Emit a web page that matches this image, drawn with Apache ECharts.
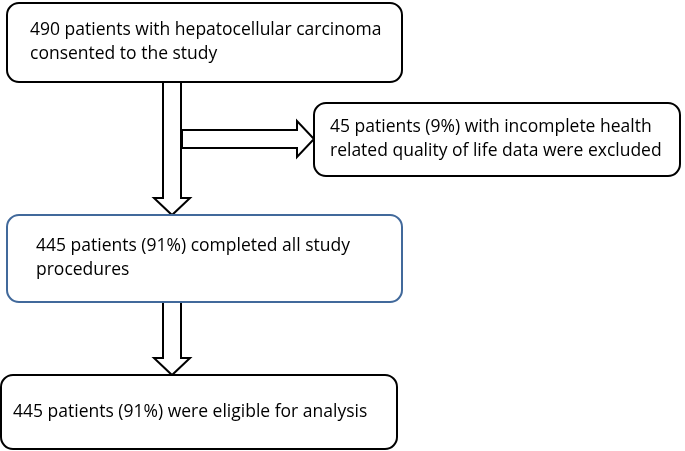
<!DOCTYPE html>
<html>
<head>
<meta charset="utf-8">
<script src="https://cdn.jsdelivr.net/npm/echarts@6/dist/echarts.min.js"></script>
<style>
  html, body { margin: 0; padding: 0; background: #fff; }
  #chart { width: 685px; height: 451px; }
</style>
</head>
<body>
<div id="chart"></div>
<script>
  // flowchart content
  const boxTexts = [
    '490 patients with hepatocellular carcinoma\nconsented to the study',
    '45 patients (9%) with incomplete health\nrelated quality of life data were excluded',
    '445 patients (91%) completed all study\nprocedures',
    '445 patients (91%) were eligible for analysis'
  ];
  const boxColors = ['#000', '#000', '#41699b', '#000'];

  // layout in pixel units (x1, y1, x2, y2, text x)
  const boxFrames = [
    [7, 3, 402, 82, 30],
    [314, 103, 680, 176, 330],
    [7, 215, 402, 302, 36],
    [1, 375, 397, 449, 13]
  ];
  // arrows: [x, y start, end, direction]
  const arrowFrames = [
    [172, 82, 215, 'down'],
    [139, 182, 314, 'right'],
    [172, 302, 375, 'down']
  ];

  let chartDom = document.getElementById('chart');
  let myChart = echarts.init(chartDom);

  function renderBox(params, api) {
    let i = params.dataIndex;
    let f = boxFrames[i];
    let p1 = api.coord([f[0], f[1]]);
    let p2 = api.coord([f[2], f[3]]);
    let tx = api.coord([f[4], (f[1] + f[3]) / 2]);
    return {
      type: 'group',
      children: [{
        type: 'rect',
        shape: { x: p1[0], y: p1[1], width: p2[0] - p1[0], height: p2[1] - p1[1], r: 12 },
        style: { fill: '#fff', stroke: boxColors[i], lineWidth: 2 }
      }, {
        type: 'text',
        x: tx[0],
        y: tx[1],
        style: {
          text: boxTexts[i],
          fill: '#000',
          font: '17.5px "Open Sans", sans-serif',
          lineHeight: 24,
          verticalAlign: 'middle',
          align: 'left'
        }
      }]
    };
  }

  function renderArrow(params, api) {
    let a = arrowFrames[params.dataIndex];
    let half = 9, headHalf = 18, headLen = 17;
    let pts;
    if (a[3] === 'down') {
      let x = a[0], y0 = a[1], y1 = a[2];
      pts = [[x - half, y0], [x + half, y0], [x + half, y1 - headLen], [x + headHalf, y1 - headLen],
             [x, y1], [x - headHalf, y1 - headLen], [x - half, y1 - headLen]];
    } else {
      let y = a[0], x0 = a[1], x1 = a[2];
      pts = [[x0, y - half], [x1 - headLen, y - half], [x1 - headLen, y - headHalf], [x1, y],
             [x1 - headLen, y + headHalf], [x1 - headLen, y + half], [x0, y + half]];
    }
    return {
      type: 'polygon',
      shape: { points: pts.map(p => api.coord(p)) },
      style: { fill: '#fff', stroke: '#000', lineWidth: 2 }
    };
  }

  let option = {
    animation: false,
    grid: { left: 0, right: 0, top: 0, bottom: 0 },
    xAxis: { type: 'value', min: 0, max: 685, show: false },
    yAxis: { type: 'value', min: 0, max: 451, inverse: true, show: false },
    series: [{
      type: 'custom',
      renderItem: renderArrow,
      data: arrowFrames.map((a, i) => [i]),
      z: 1
    }, {
      type: 'custom',
      renderItem: renderBox,
      data: boxTexts.map((t, i) => [i]),
      z: 2
    }]
  };
  option && myChart.setOption(option);
</script>
</body>
</html>
